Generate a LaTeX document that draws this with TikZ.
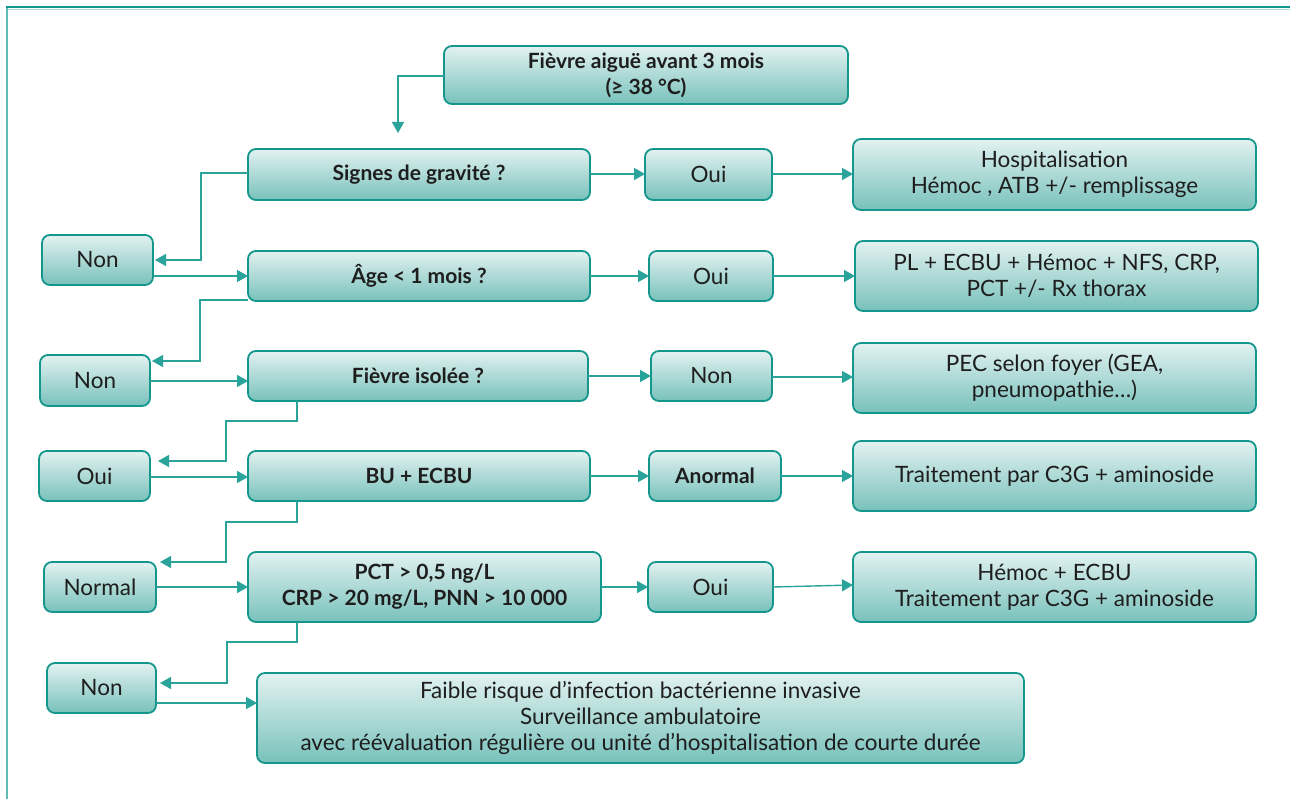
\documentclass[tikz,border=0pt]{standalone}
\usepackage{fontspec}
\setmainfont{Lato}
\usetikzlibrary{arrows.meta,calc}
\definecolor{tealb}{HTML}{14968D}
\definecolor{tealc}{HTML}{2AA39A}
\definecolor{topc}{HTML}{E2F2F1}
\definecolor{botc}{HTML}{78C1BB}
\definecolor{txt}{HTML}{1E1E1E}
\definecolor{framel}{HTML}{5BBDB5}
\definecolor{framet}{HTML}{A6DCD7}
\tikzset{
  box/.style={draw=tealb, line width=1.8pt, rounded corners=8pt, top color=topc, bottom color=botc,
    anchor=north west, inner sep=0pt, outer sep=0pt, align=center, text=txt,
    font=\fontsize{22.5}{26}\selectfont},
  bbox/.style={box, font=\fontsize{21}{26}\selectfont\bfseries},
  conn/.style={draw=tealc, line width=1.4pt, -{Triangle[length=11pt,width=12pt]}},
}
\begin{document}
\begin{tikzpicture}[x=1pt,y=-1pt]
\useasboundingbox (0,0) rectangle (1290,799);
% frame
\draw[framel, line width=2pt] (7,7) -- (7,799);
\draw[framet, line width=1.5pt] (8,9.5) -- (1290,9.5);
\draw[tealb, line width=2pt] (6,7) -- (1290,7);

\node[bbox, minimum width=404pt, minimum height=58pt] (top) at (444,46) {Fièvre aiguë avant 3 mois\\(≥ 38 °C)};
\node[bbox, minimum width=342pt, minimum height=51pt] (sig) at (248,149) {Signes de gravité ?};
\node[box, minimum width=127pt, minimum height=51pt] (oui1) at (645,149) {Oui};
\node[box, minimum width=403pt, minimum height=71pt] (hosp) at (853,139) {Hospitalisation\\Hémoc , ATB +/- remplissage};
\node[box, minimum width=111pt, minimum height=50pt] (non1) at (42,235) {Non};
\node[bbox, minimum width=342pt, minimum height=50pt] (age) at (248,251) {Âge < 1 mois ?};
\node[box, minimum width=124pt, minimum height=50pt] (oui2) at (649,251) {Oui};
\node[box, minimum width=403pt, minimum height=70pt] (pl) at (855,241) {PL + ECBU + Hémoc + NFS, CRP,\\PCT +/- Rx thorax};
\node[box, minimum width=110pt, minimum height=51pt] (non2) at (40,355) {Non};
\node[bbox, minimum width=340pt, minimum height=50pt] (fi) at (248,351) {Fièvre isolée ?};
\node[box, minimum width=121pt, minimum height=50pt] (non3) at (651,351) {Non};
\node[box, minimum width=403pt, minimum height=70pt] (pec) at (853,343) {PEC selon foyer (GEA,\\pneumopathie…)};
\node[box, minimum width=111pt, minimum height=50pt] (oui3) at (39,451) {Oui};
\node[bbox, minimum width=342pt, minimum height=50pt] (bu) at (248,451) {BU + ECBU};
\node[bbox, minimum width=132pt, minimum height=50pt] (anormal) at (649,451) {Anormal};
\node[box, minimum width=403pt, minimum height=70pt] (trait) at (853,441) {Traitement par C3G + aminoside};
\node[box, minimum width=112pt, minimum height=50pt] (normal) at (44,562) {Normal};
\node[bbox, minimum width=353pt, minimum height=70pt] (pct) at (248,552) {PCT > 0,5 ng/L\\CRP > 20 mg/L, PNN > 10 000};
\node[box, minimum width=125pt, minimum height=50pt] (oui4) at (648,562) {Oui};
\node[box, minimum width=403pt, minimum height=70pt] (hemoc) at (853,552) {Hémoc + ECBU\\Traitement par C3G + aminoside};
\node[box, minimum width=109pt, minimum height=50pt] (non4) at (47,663) {Non};
\node[box, minimum width=767pt, minimum height=90pt] (faible) at (257,673) {Faible risque d’infection bactérienne invasive\\Surveillance ambulatoire\\avec réévaluation régulière ou unité d’hospitalisation de courte durée};

\coordinate (s0) at (398,133);
\draw[conn] (top.west |- 0,76) -| (s0);

\draw[conn] (sig.east |- 0,174) -- (oui1.west |- 0,174);
\draw[conn] (oui1.east |- 0,174) -- (hosp.west |- 0,174);
\draw[conn] (age.east |- 0,276) -- (oui2.west |- 0,276);
\draw[conn] (oui2.east |- 0,276) -- (pl.west |- 0,276);
\draw[conn] (fi.east |- 0,376) -- (non3.west |- 0,376);
\draw[conn] (non3.east |- 0,377) -- (pec.west |- 0,377);
\draw[conn] (bu.east |- 0,476) -- (anormal.west |- 0,476);
\draw[conn] (anormal.east |- 0,476) -- (trait.west |- 0,476);
\draw[conn] (pct.east |- 0,587) -- (oui4.west |- 0,587);
\draw[conn] (oui4.east |- 0,587) -- (hemoc.west |- 0,585);

\draw[conn, shorten >=2pt] (sig.west |- 0,173) -- (201,173) -- (201,260) -- (non1.east |- 0,260);
\draw[conn] (non1.east |- 0,276) -- (age.west |- 0,276);
\draw[conn, shorten >=2pt] (age.west |- 0,300) -- (200,300) -- (200,361) -- (non2.east |- 0,361);
\draw[conn] (non2.east |- 0,381) -- (fi.west |- 0,381);
\draw[conn, shorten >=8pt] (fi.south -| 297,0) -- (297,421) -- (226,421) -- (226,461) -- (oui3.east |- 0,461);
\draw[conn] (oui3.east |- 0,477) -- (bu.west |- 0,477);
\draw[conn, shorten >=4pt] (bu.south -| 297,0) -- (297,522) -- (226,522) -- (226,562) -- (normal.east |- 0,562);
\draw[conn] (normal.east |- 0,587) -- (pct.west |- 0,587);
\draw[conn, shorten >=4pt] (pct.south -| 297,0) -- (297,642) -- (227,642) -- (227,683) -- (non4.east |- 0,683);
\draw[conn] (non4.east |- 0,703) -- (faible.west |- 0,703);
\end{tikzpicture}
\end{document}
